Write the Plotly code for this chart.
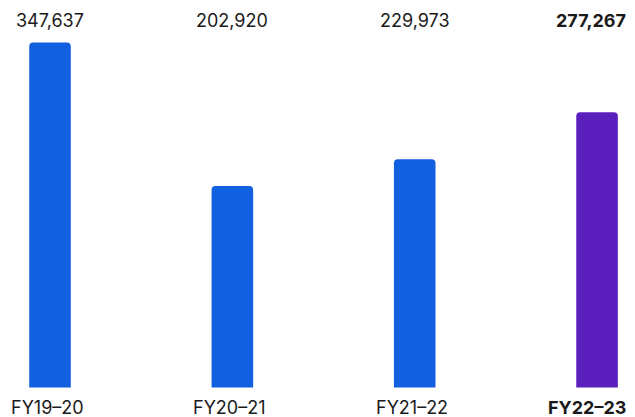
import plotly.graph_objects as go

categories = ["FY19–20", "FY20–21", "FY21–22", "FY22–23"]
values = [347637, 202920, 229973, 277267]
colors = ["#1060DF", "#1060DF", "#1060DF", "#5B1FBD"]
bold = [False, False, False, True]

fig = go.Figure()
fig.add_trace(go.Bar(
    x=list(range(len(categories))), y=values,
    marker=dict(color=colors, line=dict(width=0)),
    width=0.228, hoverinfo="skip",
))

for i, (c, v, b) in enumerate(zip(categories, values, bold)):
    vt = f"{v:,}"
    last = i == len(categories) - 1
    fig.add_annotation(x=i, y=0.9712, yref="paper", xref="x",
                       text=f"<b>{vt}</b>" if b else vt, showarrow=False,
                       xanchor="center", yanchor="middle", xshift=-6 if last else 0,
                       font=dict(size=18, color="#1a1a1a", family="Inter"))
    fig.add_annotation(x=i, y=0.0408, yref="paper", xref="x",
                       text=f"<b>{c}</b>" if b else c, showarrow=False,
                       xanchor="center", yanchor="middle", xshift=-10 if last else -3,
                       font=dict(size=18, color="#1a1a1a", family="Inter"))

fig.update_layout(
    width=635, height=417, margin=dict(l=0, r=0, t=0, b=0),
    paper_bgcolor="white", plot_bgcolor="white",
    barcornerradius=4, showlegend=False,
    xaxis=dict(range=[-0.2304, 3.252], visible=False, fixedrange=True),
    yaxis=dict(range=[-37785, 382384], visible=False, fixedrange=True),
)
fig.write_html("out.html")
